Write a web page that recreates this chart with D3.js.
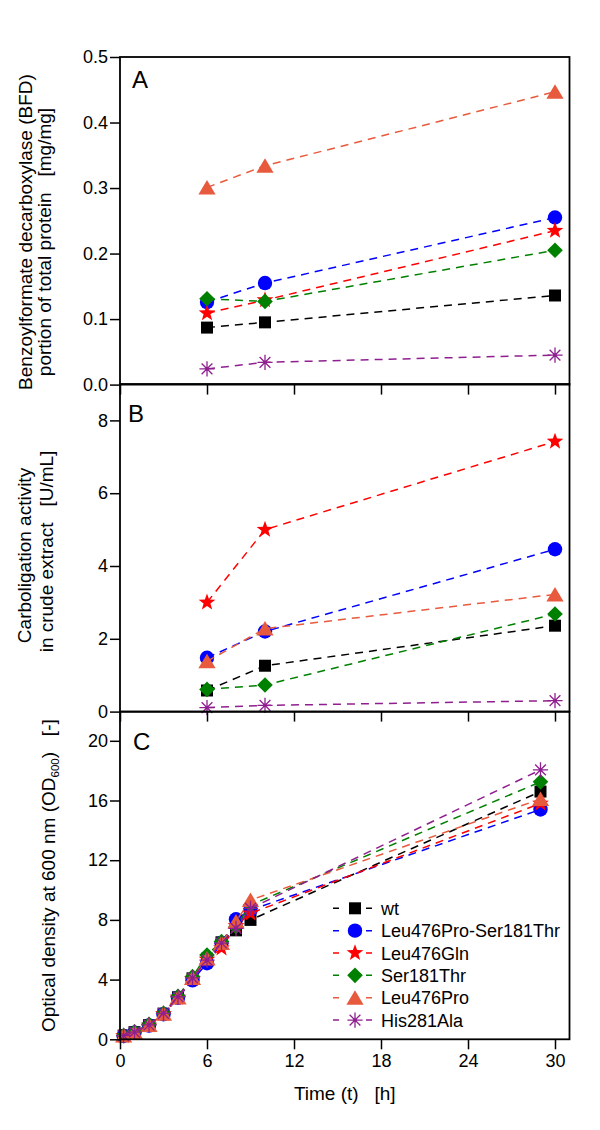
<!DOCTYPE html>
<html><head><meta charset="utf-8">
<script src="https://cdn.jsdelivr.net/npm/d3@7"></script>
<style>
body{margin:0;background:#fff}
text{font-family:"Liberation Sans",Arial,sans-serif;fill:#000}
</style>
</head><body>
<svg id="chart" width="600" height="1130"></svg>
<script>
// ---------------- data ----------------
const seriesNames   = ["wt","Leu476Pro-Ser181Thr","Leu476Gln","Ser181Thr","Leu476Pro","His281Ala"];
const seriesColors  = ["#000000","#0000ff","#ff0000","#008000","#e85a3d","#8f1f8f"];
const seriesSymbols = ["square","circle","star","diamond","triangle","asterisk"];

// Panel A: BFD portion of total protein [mg/mg]
const timeAB = [6, 10, 30];
const bfdWt    = [0.087, 0.095, 0.136];
const bfdLPST  = [0.126, 0.155, 0.255];
const bfdLQ    = [0.109, 0.129, 0.235];
const bfdST    = [0.131, 0.127, 0.205];
const bfdLP    = [0.301, 0.334, 0.447];
const bfdHA    = [0.024, 0.034, 0.045];

// Panel B: carboligation activity [U/mL]
const actWt    = [0.58, 1.26, 2.36];
const actLPST  = [1.48, 2.20, 4.46];
const actLQ    = [3.00, 5.00, 7.42];
const actST    = [0.61, 0.73, 2.68];
const actLP    = [1.38, 2.28, 3.22];
const actHA    = [0.11, 0.17, 0.30];

// Panel C: OD600
const timeC  = [0.25, 1, 2, 3, 4, 5, 6, 7, 8, 9, 29];
const odWt   = [0.25, 0.48, 0.95, 1.72, 2.82, 4.08, 5.40, 6.50, 7.30, 8.00, 16.60];
const odLPST = [0.22, 0.45, 0.92, 1.68, 2.78, 3.95, 5.10, 6.45, 8.04, 8.66, 15.40];
const odLQ   = [0.22, 0.45, 0.93, 1.70, 2.80, 4.05, 5.35, 6.10, 7.60, 8.44, 15.80];
const odST   = [0.25, 0.50, 1.00, 1.75, 2.88, 4.20, 5.65, 6.55, 7.55, 9.00, 17.25];
const odLP   = [0.25, 0.48, 0.96, 1.72, 2.80, 4.10, 5.42, 6.45, 7.90, 9.33, 16.10];
const odHA   = [0.25, 0.48, 0.96, 1.74, 2.85, 4.12, 5.30, 6.45, 7.43, 8.77, 18.05];

const xTicks = [0, 6, 12, 18, 24, 30];
const yTicksA = [0, 0.1, 0.2, 0.3, 0.4, 0.5];
const yTicksB = [0, 2, 4, 6, 8];
const yTicksC = [0, 4, 8, 12, 16, 20];

const panels = [
  {letter:"A", xs:timeAB, ys:[bfdWt,bfdLPST,bfdLQ,bfdST,bfdLP,bfdHA], domain:[0,0.5], ticks:yTicksA, fmt:d3.format(".1f"),
   title:["Benzoylformate decarboxylase (BFD)","portion of total protein   [mg/mg]"]},
  {letter:"B", xs:timeAB, ys:[actWt,actLPST,actLQ,actST,actLP,actHA], domain:[0,9], ticks:yTicksB, fmt:d3.format("d"),
   title:["Carboligation activity","in crude extract   [U/mL]"]},
  {letter:"C", xs:timeC, ys:[odWt,odLPST,odLQ,odST,odLP,odHA], domain:[0,21.95], ticks:yTicksC, fmt:d3.format("d"),
   title:null}
];

// ---------------- layout ----------------
const svg = d3.select("#chart");
const L = 120, R = 569.5;
const tops = [57, 384, 711.7];
const PH = 327.6;
const font = '"Liberation Sans",Arial,sans-serif';

const x = d3.scaleLinear().domain([0, 31]).range([L, R]);

function symbolPath(type){
  switch(type){
    case "square": return "M-6,-6h12v12h-12Z";
    case "circle": return d3.symbol(d3.symbolCircle, Math.PI*7.2*7.2)();
    case "diamond": return "M0,-7.8L7.8,0L0,7.8L-7.8,0Z";
    case "triangle": return "M0,-7.5L8.6,7L-8.6,7Z";
    case "star": {
      const pts=[]; for(let i=0;i<10;i++){const r=i%2?3.6:8.8; const a=-Math.PI/2+i*Math.PI/5; pts.push([r*Math.cos(a), r*Math.sin(a)]);}
      return "M"+pts.map(p=>p.join(",")).join("L")+"Z";
    }
    case "asterisk": {
      let p=""; const r=7.6;
      for(let i=0;i<4;i++){const a=i*Math.PI/4; p+=`M${r*Math.cos(a)},${r*Math.sin(a)}L${-r*Math.cos(a)},${-r*Math.sin(a)}`;}
      return p;
    }
  }
}
function drawMarker(g, type, color, cx, cy){
  const el = g.append("path").attr("d", symbolPath(type)).attr("transform",`translate(${cx},${cy})`);
  if(type==="asterisk"){
    el.attr("fill","none").attr("stroke",color).attr("stroke-width",1.3);
    g.append("circle").attr("cx",cx).attr("cy",cy).attr("r",1.6).attr("fill",color);
  } else {
    el.attr("fill",color).attr("stroke","none");
  }
}

panels.forEach((p, pi) => {
  const top = tops[pi], bottom = top + PH;
  const y = d3.scaleLinear().domain(p.domain).range([bottom, top]);
  const g = svg.append("g");

  // data
  const line = d3.line().x(d=>x(d[0])).y(d=>y(d[1]));
  p.ys.forEach((vals, si) => {
    const pts = p.xs.map((t,i)=>[t, vals[i]]);
    const sg = g.append("g");
    sg.append("path").attr("d", line(pts)).attr("fill","none")
      .attr("stroke", seriesColors[si]).attr("stroke-width",1.5).attr("stroke-dasharray","8,6");
    pts.forEach(d => drawMarker(sg, seriesSymbols[si], seriesColors[si], x(d[0]), y(d[1])));
  });

  // y axis
  const ya = g.append("g").attr("transform",`translate(${L},0)`)
    .call(d3.axisLeft(y).tickValues(p.ticks).tickSize(10).tickPadding(2).tickFormat(p.fmt));
  ya.select(".domain").remove();
  ya.selectAll("line").attr("stroke","#000").attr("stroke-width",1.5);
  ya.selectAll("text").attr("font-size",18).attr("font-family",font).attr("fill","#000");

  // x axis
  const xa = g.append("g").attr("transform",`translate(0,${bottom})`)
    .call(d3.axisBottom(x).tickValues(xTicks).tickSize(10).tickPadding(5)
      .tickFormat(pi===2 ? d3.format("d") : ""));
  xa.select(".domain").remove();
  xa.selectAll("line").attr("stroke","#000").attr("stroke-width",1.5);
  xa.selectAll("text").attr("font-size",18).attr("font-family",font).attr("fill","#000");

  // frame
  g.append("rect").attr("x",L).attr("y",top).attr("width",R-L).attr("height",PH)
    .attr("fill","none").attr("stroke","#000").attr("stroke-width",1.8);

  // panel letter
  const letterPos = [[132, top+31], [128, top+37.7], [133, top+38.3]][pi];
  g.append("text").attr("x",letterPos[0]).attr("y",letterPos[1]).attr("font-size",24).text(p.letter);
});

// y-axis titles
function vtext(str, cx, cy, anchor){
  return svg.append("text").attr("transform",`translate(${cx},${cy}) rotate(-90)`)
    .attr("text-anchor",anchor||"middle").attr("font-size",19).style("white-space","pre").text(str);
}
vtext(panels[0].title[0], 31.5, 232);
vtext(panels[0].title[1], 50.5, 242);
vtext(panels[1].title[0], 31, 555.5);
vtext(panels[1].title[1], 53, 551.5);
const tC = svg.append("text").attr("transform",`translate(55,1032) rotate(-90)`)
  .attr("text-anchor","start").attr("font-size",19).style("white-space","pre");
tC.append("tspan").text("Optical density at 600 nm (OD");
tC.append("tspan").attr("font-size",11.5).attr("dy",4).text("600");
tC.append("tspan").attr("dy",-4).text(")   [-]");

// x-axis title
svg.append("text").attr("x",(L+R)/2).attr("y",1100).attr("text-anchor","middle")
  .attr("font-size",19).style("white-space","pre").text("Time (t)   [h]");

// legend
const legY0 = 908.3, legDY = 22.35;
seriesNames.forEach((name, i) => {
  const yy = legY0 + i*legDY;
  const lg = svg.append("g");
  lg.append("line").attr("x1",333).attr("x2",372).attr("y1",yy).attr("y2",yy)
    .attr("stroke",seriesColors[i]).attr("stroke-width",1.5).attr("stroke-dasharray","6,27");
  drawMarker(lg, seriesSymbols[i], seriesColors[i], 355, yy);
  lg.append("text").attr("x",381).attr("y",yy+6.5).attr("font-size",18).text(name);
});
</script>
</body></html>
